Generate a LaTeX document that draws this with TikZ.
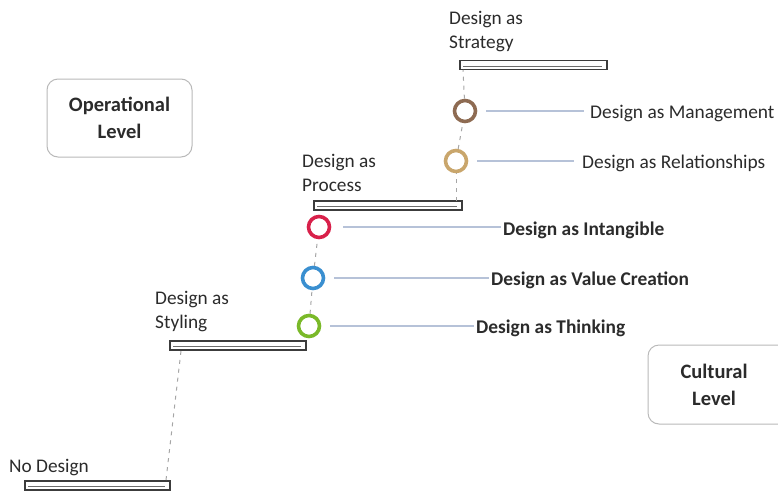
\documentclass[tikz,border=0pt]{standalone}
\usepackage{fontspec}
\setmainfont{Carlito}
\definecolor{cgreen}{HTML}{7AB929}
\definecolor{cblue}{HTML}{3A8FD0}
\definecolor{cred}{HTML}{D8204A}
\definecolor{ctan}{HTML}{C9A66C}
\definecolor{cbrown}{HTML}{8E6B52}
\definecolor{lline}{HTML}{B6C2D8}
\definecolor{txt}{HTML}{2B2B2B}
\definecolor{barc}{HTML}{3C3C3C}
\begin{document}
\begin{tikzpicture}[x=1pt,y=-1pt,
  lbl/.style={font=\fontsize{19.4}{24}\selectfont, text=txt, inner sep=0pt, anchor=base west},
  blbl/.style={lbl, font=\fontsize{19.4}{24}\selectfont\bfseries},
  steplbl/.style={font=\fontsize{19.3}{24}\selectfont, text=txt, inner sep=0pt, anchor=south west, align=left},
  stepbar/.style={draw=barc, line width=1.6pt, minimum height=9pt, inner sep=0pt, fill=white},
  ring/.style={circle, draw=#1, line width=3.6pt, minimum size=21pt, inner sep=0pt},
  link/.style={draw=lline, line width=1.3pt},
  dashline/.style={draw=gray!70, line width=1pt, dash pattern=on 4pt off 5pt},
  levelbox/.style={draw=gray!55, line width=1pt, rounded corners=11pt, align=center,
     font=\fontsize{20.5}{27}\selectfont\bfseries, text=txt}]
\useasboundingbox (0,0) rectangle (778,493);
% level boxes
\node[levelbox, minimum width=145pt, minimum height=78pt] (op) at (119.5,118) {Operational\\Level};
\node[levelbox, minimum width=142pt, minimum height=79pt, text width=120pt] (cu) at (719,384.5) {\hspace*{-10pt}Cultural\\\hspace*{-10pt}Level};
% step bars
\node[stepbar, minimum width=145pt] (bar0) at (97.5,485.5) {};
\node[stepbar, minimum width=136pt] (bar1) at (238,345.5) {};
\node[stepbar, minimum width=148pt] (bar2) at (388,205.5) {};
\node[stepbar, minimum width=147pt] (bar3) at (533.5,65) {};
\foreach \b in {bar0,bar1,bar2,bar3}{
  \draw[barc!75, line width=1pt] ([xshift=4pt,yshift=-1pt]\b.west) -- ([xshift=-6pt,yshift=-1pt]\b.east);
}
% step labels
\node[steplbl] (l0) at (9,476) {No Design};
\node[steplbl] (l1) at (155,332) {Design as\\Styling};
\node[steplbl] (l2) at (302,192) {Design as\\Process};
\node[steplbl] (l3) at (449,52) {Design as\\Strategy};
% circles
\node[ring=cgreen] (c1) at (309,326) {};
\node[ring=cblue] (c2) at (313,278) {};
\node[ring=cred] (c3) at (319,227) {};
\node[ring=ctan] (c4) at (456,161) {};
\node[ring=cbrown] (c5) at (465,111) {};
% coordinates for dashed connections
\coordinate (b0t) at (166,480);
\coordinate (b1b) at (181,351);
\coordinate (b2r) at (456,201);
\coordinate (b3b) at (463,70);
% dashed lines
\draw[dashline] (b0t) -- (b1b);
\draw[dashline] (c1) -- (c2);
\draw[dashline] (c2) -- (c3);
\draw[dashline] (b2r) -- (c4);
\draw[dashline] (c4) -- (c5);
\draw[dashline] (c5) -- (b3b);
% labels
\node[blbl] (t1) at (476,333) {Design as Thinking};
\node[blbl] (t2) at (491,285) {Design as Value Creation};
\node[blbl] (t3) at (503,235) {Design as Intangible};
\node[lbl] (t4) at (582,168) {Design as Relationships};
\node[lbl] (t5) at (590,118) {Design as Management};
% links
\draw[link, shorten <=9pt, shorten >=2pt] (c1.east) -- (c1 -| t1.west);
\draw[link, shorten <=9pt, shorten >=2pt] (c2.east) -- (c2 -| t2.west);
\draw[link, shorten <=12pt, shorten >=2pt] (c3.east) -- (c3 -| t3.west);
\draw[link, shorten <=9pt, shorten >=8pt] (c4.east) -- (c4 -| t4.west);
\draw[link, shorten <=9pt, shorten >=6pt] (c5.east) -- (c5 -| t5.west);
\end{tikzpicture}
\end{document}
